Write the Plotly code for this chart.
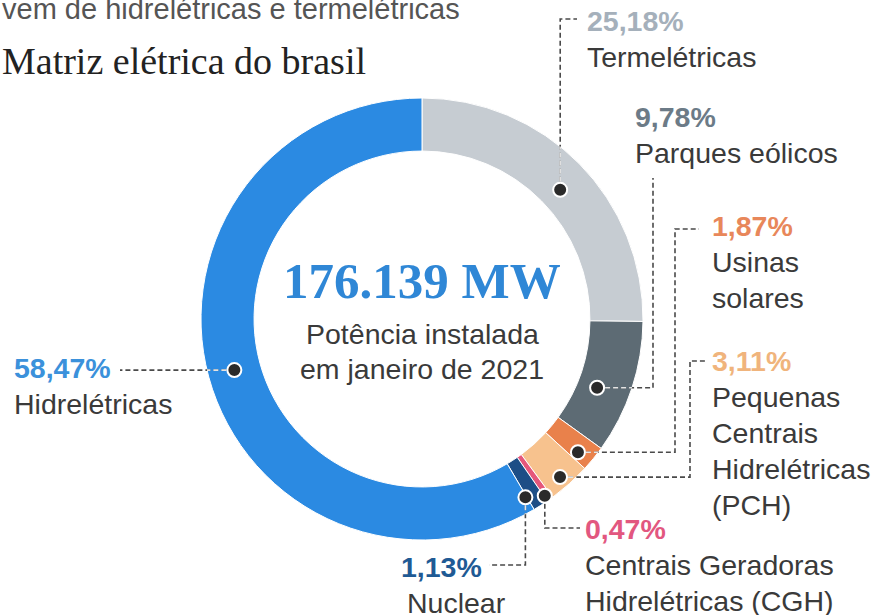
import math
import plotly.graph_objects as go

# ---------------- data ----------------
categories = ["Termelétricas", "Parques eólicos", "Usinas solares",
              "Pequenas Centrais Hidrelétricas (PCH)",
              "Centrais Geradoras Hidrelétricas (CGH)", "Nuclear", "Hidrelétricas"]
shares = [25.18, 9.78, 1.87, 3.11, 0.47, 1.13, 58.47]
pct_labels = ["25,18%", "9,78%", "1,87%", "3,11%", "0,47%", "1,13%", "58,47%"]
name_lines = [["Termelétricas"], ["Parques eólicos"], ["Usinas", "solares"],
              ["Pequenas", "Centrais", "Hidrelétricas", "(PCH)"],
              ["Centrais Geradoras", "Hidrelétricas (CGH)"], ["Nuclear"], ["Hidrelétricas"]]
total_text = "176.139 MW"
subtitle_lines = ["Potência instalada", "em janeiro de 2021"]
title_text = "Matriz elétrica do brasil"
top_text = "vem de hidrelétricas e termelétricas"

# ---------------- style ----------------
W, H = 880, 615
slice_colors = ["#c6ccd2", "#5d6b74", "#e9814b", "#f7c28e", "#e5577b", "#1d4e86", "#2b8ae2"]
pct_colors = ["#a5b0bb", "#6c7b87", "#e8875a", "#f0b47c", "#e2577f", "#1f5a94", "#3b91db"]
text_color = "#3a3a3a"
CX, CY, R_OUT, HOLE = 422, 319, 221, 0.76
R_IN = R_OUT * HOLE
# dot radial position (fraction across ring) and small angular nudge, per slice
dot_frac = [0.4, 0.38, 0.7, 0.79, 0.89, 0.72, 0.5]
dot_nudge = [1.6, 3.2, 1.3, 0.7, 0.6, 2.4, 0]
label_pos = [(585, 21), (633, 117), (710, 226), (710, 361), (583, 529), (484, 567), (12, 368)]
label_anchor = ["left", "left", "left", "left", "left", "right", "left"]
line_gap = 36
LBL = 28.5
FONT = "Liberation Sans, Arial, sans-serif"
SERIF = "Liberation Serif, Times New Roman, serif"
DASH = "5px,3px"

fig = go.Figure()
fig.add_trace(go.Pie(
    labels=categories, values=shares, sort=False, direction="clockwise", rotation=0,
    hole=HOLE, textinfo="none", hoverinfo="label+percent",
    marker=dict(colors=slice_colors, line=dict(color="white", width=1)),
    domain=dict(x=[(CX - R_OUT) / W, (CX + R_OUT) / W],
                y=[(H - CY - R_OUT) / H, (H - CY + R_OUT) / H]),
    showlegend=False,
))

# compute dot positions from data
tot = sum(shares)
cum = 0
dots = []
for i, v in enumerate(shares):
    mid = (cum + v / 2) / tot * 360 + dot_nudge[i]
    cum += v
    r = R_IN + (R_OUT - R_IN) * dot_frac[i]
    a = math.radians(mid)
    dots.append((CX + r * math.sin(a), CY - r * math.cos(a)))

def path_for(i, d):
    x, y = d
    if i == 0:
        return [(x, y), (x, 19), (577, 19)]
    if i == 1:
        return [(x, y), (653, y), (653, 178)]
    if i == 2:
        return [(x, y), (675, y), (675, 229), (699, 229)]
    if i == 3:
        return [(x, y), (690, y), (690, 361), (706, 361)]
    if i == 4:
        return [(x, y), (x, 528), (580, 528)]
    if i == 5:
        return [(x, y), (x, 565), (489, 565)]
    return [(x, y), (120, y)]

def ring_exit(p0, p1):
    # point where segment p0->p1 leaves the outer circle
    dx, dy = p1[0] - p0[0], p1[1] - p0[1]
    fx, fy = p0[0] - CX, p0[1] - CY
    a = dx * dx + dy * dy
    b = 2 * (fx * dx + fy * dy)
    c = fx * fx + fy * fy - R_OUT ** 2
    disc = b * b - 4 * a * c
    t = (-b + math.sqrt(max(disc, 0))) / (2 * a)
    t = min(max(t, 0), 1)
    return (p0[0] + t * dx, p0[1] + t * dy)

shapes = []
for i, d in enumerate(dots):
    pts = path_for(i, d)
    p = "M " + " L ".join(f"{px:.1f},{py:.1f}" for px, py in pts)
    shapes.append(dict(type="path", path=p, xref="x", yref="y", layer="above",
                       line=dict(color="#4a4a4a", width=1.6, dash=DASH)))
    e = ring_exit(pts[0], pts[1])
    shapes.append(dict(type="line", x0=pts[0][0], y0=pts[0][1], x1=e[0], y1=e[1],
                       xref="x", yref="y", layer="above",
                       line=dict(color="rgba(255,255,255,0.85)", width=1.6, dash=DASH)))
for d in dots:
    x, y = d
    shapes.append(dict(type="circle", xref="x", yref="y", layer="above",
                       x0=x - 7, x1=x + 7, y0=y - 7, y1=y + 7,
                       fillcolor="#2a2a2a", line=dict(color="white", width=2)))

annotations = []
def add_text(x, y, text, size, color, anchor="left", family=FONT, bold=False):
    t = f"<b>{text}</b>" if bold else text
    annotations.append(dict(x=x, y=y, xref="x", yref="y", text=t, showarrow=False,
                            xanchor=anchor, yanchor="middle",
                            font=dict(size=size, color=color, family=family)))

for i in range(len(shares)):
    lx, ly = label_pos[i]
    add_text(lx, ly, pct_labels[i], LBL, pct_colors[i], label_anchor[i], bold=True)
    nx = 405 if i == 5 else lx
    for j, ln in enumerate(name_lines[i]):
        add_text(nx, ly + line_gap * (j + 1), ln, LBL, text_color, "left")

add_text(CX, 281, total_text, 51, "#2f87d6", "center", family=SERIF, bold=True)
add_text(CX, 334, subtitle_lines[0], 28.5, text_color, "center")
add_text(CX, 369, subtitle_lines[1], 28.5, text_color, "center")
add_text(0, 61, title_text, 38, "#222222", "left", family=SERIF)
add_text(0, 9, top_text, 29, "#555555", "left")

fig.update_layout(
    width=W, height=H, margin=dict(l=0, r=0, t=0, b=0),
    paper_bgcolor="white", plot_bgcolor="rgba(0,0,0,0)",
    xaxis=dict(range=[0, W], visible=False, domain=[0, 1], fixedrange=True),
    yaxis=dict(range=[H, 0], visible=False, domain=[0, 1], fixedrange=True),
    shapes=shapes, annotations=annotations,
)
fig.write_html("out.html", config={"displayModeBar": False},
               post_script="document.body.style.margin='0px';")
